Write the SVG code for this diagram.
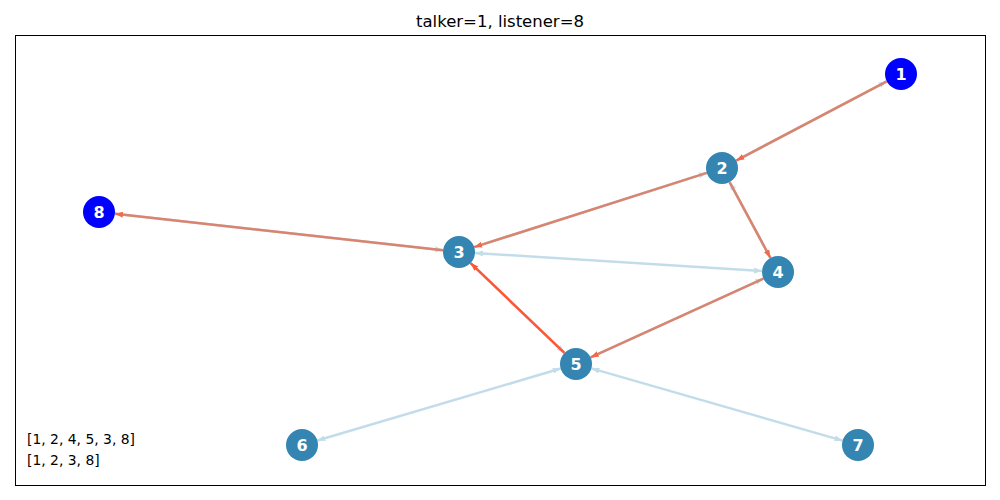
<svg xmlns="http://www.w3.org/2000/svg" width="1000" height="500" viewBox="0 0 1000 500">
<style>
.lb{stroke:#c3dcea;stroke-width:2.5;fill:none}
.sal{stroke:#d9846f;stroke-width:2.5;fill:none}
.hot{stroke:#ff5733;stroke-width:2.5;fill:none}
.n circle{fill:#3485b2}
.n.t circle{fill:#0000ff}
.n text{font-family:"DejaVu Sans",sans-serif;font-size:16px;font-weight:bold;fill:#fff;text-anchor:middle}
.lbl{font-family:"DejaVu Sans",sans-serif;font-size:13.9px;fill:#000}
.ttl{font-family:"DejaVu Sans",sans-serif;font-size:16.5px;fill:#000}
</style>
<defs>
<marker id="aLb" viewBox="0 0 8 6" refX="8" refY="3" markerWidth="8" markerHeight="6" markerUnits="userSpaceOnUse" orient="auto-start-reverse"><path d="M0,0 L8,3 L0,6 z" fill="#c3dcea"/></marker>
<marker id="aSal" viewBox="0 0 8 6" refX="8" refY="3" markerWidth="8" markerHeight="6" markerUnits="userSpaceOnUse" orient="auto"><path d="M0,0 L8,3 L0,6 z" fill="#f0694a"/></marker>
<marker id="aHot" viewBox="0 0 8 6" refX="8" refY="3" markerWidth="8" markerHeight="6" markerUnits="userSpaceOnUse" orient="auto"><path d="M0,0 L8,3 L0,6 z" fill="#ff5733"/></marker>
</defs>
<rect width="1000" height="500" fill="#fff"/>
<text class="ttl" x="500" y="27" text-anchor="middle">talker=1, listener=8</text>
<rect x="15.5" y="35.5" width="970" height="450" fill="none" stroke="#000" stroke-width="1"/>
<g id="connectors">
<line class="lb" x1="886.8" y1="81.4" x2="736.2" y2="160.6" marker-start="url(#aLb)"/>
<line class="sal" x1="886.8" y1="81.4" x2="736.2" y2="160.6" marker-end="url(#aSal)"/>
<line class="lb" x1="706.8" y1="172.9" x2="474.2" y2="247.1" marker-start="url(#aLb)"/>
<line class="sal" x1="706.8" y1="172.9" x2="474.2" y2="247.1" marker-end="url(#aSal)"/>
<line class="lb" x1="729.6" y1="182.1" x2="770.4" y2="257.9" marker-start="url(#aLb)"/>
<line class="sal" x1="729.6" y1="182.1" x2="770.4" y2="257.9" marker-end="url(#aSal)"/>
<line class="lb" x1="475" y1="253" x2="762" y2="271" marker-start="url(#aLb)" marker-end="url(#aLb)"/>
<line class="lb" x1="763.4" y1="278.6" x2="590.6" y2="357.4" marker-start="url(#aLb)"/>
<line class="sal" x1="763.4" y1="278.6" x2="590.6" y2="357.4" marker-end="url(#aSal)"/>
<line class="lb" x1="564.4" y1="352.9" x2="470.6" y2="263.1" marker-start="url(#aLb)"/>
<line class="hot" x1="564.4" y1="352.9" x2="470.6" y2="263.1" marker-end="url(#aHot)"/>
<line class="lb" x1="443.1" y1="250.2" x2="114.9" y2="213.8" marker-start="url(#aLb)"/>
<line class="sal" x1="443.1" y1="250.2" x2="114.9" y2="213.8" marker-end="url(#aSal)"/>
<line class="lb" x1="560.7" y1="368.5" x2="317.3" y2="440.5" marker-start="url(#aLb)" marker-end="url(#aLb)"/>
<line class="lb" x1="591.4" y1="368.4" x2="842.6" y2="440.6" marker-start="url(#aLb)" marker-end="url(#aLb)"/>
</g>
<g id="node1" class="n t"><circle cx="901" cy="74" r="16"/><text x="901" y="79.8">1</text></g>
<g id="node2" class="n"><circle cx="722" cy="168" r="16"/><text x="722" y="173.8">2</text></g>
<g id="node3" class="n"><circle cx="459" cy="252" r="16"/><text x="459" y="257.8">3</text></g>
<g id="node4" class="n"><circle cx="778" cy="272" r="16"/><text x="778" y="277.8">4</text></g>
<g id="node5" class="n"><circle cx="576" cy="364" r="16"/><text x="576" y="369.8">5</text></g>
<g id="node6" class="n"><circle cx="302" cy="445" r="16"/><text x="302" y="450.8">6</text></g>
<g id="node7" class="n"><circle cx="858" cy="445" r="16"/><text x="858" y="450.8">7</text></g>
<g id="node8" class="n t"><circle cx="99" cy="212" r="16"/><text x="99" y="217.8">8</text></g>
<text class="lbl" x="27" y="444">[1, 2, 4, 5, 3, 8]</text>
<text class="lbl" x="27" y="465">[1, 2, 3, 8]</text>
</svg>
